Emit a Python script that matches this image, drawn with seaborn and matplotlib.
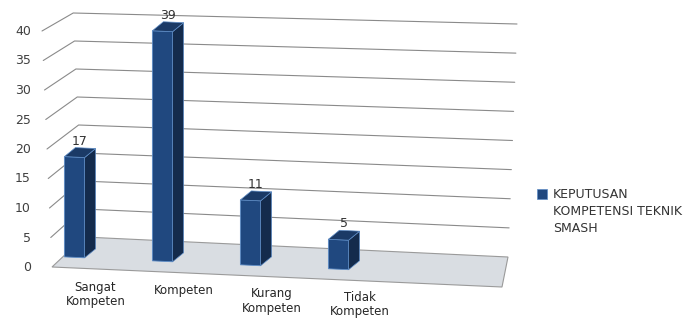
import numpy as np
import pandas as pd
import matplotlib
matplotlib.use("Agg")
import matplotlib.pyplot as plt
import matplotlib.transforms as mtransforms
from matplotlib.patches import Polygon, Rectangle, Patch
from matplotlib.lines import Line2D
from matplotlib.legend_handler import HandlerPatch
import seaborn as sns

# ---------------- data ----------------
categories = ["Sangat\nKompeten", "Kompeten", "Kurang\nKompeten", "Tidak\nKompeten"]
values = [17, 39, 11, 5]
y_ticks = [0, 5, 10, 15, 20, 25, 30, 35, 40]
series_name = "KEPUTUSAN\nKOMPETENSI TEKNIK\nSMASH"

# ---------------- style ----------------
FRONT = "#20487F"
SIDE = "#142B4C"
TOP = "#1B3A66"
EDGE = "#5D8CC6"
GRID = "#8A8A8A"
FLOOR = "#D9DDE2"
TXT = "#404040"

W, H = 691, 320
sns.set_theme(style="white")
plt.rcParams["font.family"] = ["DejaVu Sans"]

fig = plt.figure(figsize=(W / 100, H / 100), dpi=100)
fig.patch.set_facecolor("white")

# layout constants (image pixels)
X0, DX = 74.5, 88.0        # first category centre, category spacing
Y0, SY = 266.0, 5.9        # pixel row of value 0, pixels per unit
AX_L, AX_R = 42, 520
SLOPE = 0.045              # perspective tilt of the floor
DEPTH = np.array([11.0, -9.0])

ax = fig.add_axes([AX_L / W, 0, (AX_R - AX_L) / W, 1])
pix = mtransforms.Affine2D().scale(1 / W, -1 / H).translate(0, 1) + fig.transFigure
shear = mtransforms.Affine2D(np.array([[1, 0, 0],
                                       [-SLOPE, 1, SLOPE * 200 + 3],
                                       [0, 0, 1]]))

df = pd.DataFrame({"kategori": categories, "nilai": values})
sns.barplot(data=df, x="kategori", y="nilai", ax=ax, color=FRONT, width=0.23,
            saturation=1, edgecolor=EDGE, linewidth=0.6, zorder=4)

ax.set_xlim((AX_L - X0) / DX, (AX_R - X0) / DX)
ax.set_ylim(-(H - Y0) / SY, Y0 / SY)
ax.patch.set_alpha(0)
for s in ax.spines.values():
    s.set_visible(False)
ax.set_xticks([])
ax.set_xlabel("")
ax.set_ylabel("")
ax.set_yticks(y_ticks)
ax.set_yticklabels([str(v) for v in y_ticks])
ax.tick_params(axis="y", length=0, pad=8, labelsize=9, labelcolor=TXT)

# ---------------- walls & floor ----------------
def Fp(v):   # front-left edge
    return (52 - 0.25 * v, Y0 + 1 - SY * v)

def Bp(v):   # back-left corner
    return (84 - 0.27 * v, 237 - 5.6 * v)

def Rp(v):   # back-right edge
    return (508 + 0.225 * v, 257 - 5.825 * v)

for v in y_ticks[1:]:
    f, b, r = Fp(v), Bp(v), Rp(v)
    ax.add_line(Line2D([f[0], b[0], r[0]], [f[1], b[1], r[1]], transform=pix,
                       color=GRID, lw=0.8, zorder=1, clip_on=False))

floor = Polygon([Fp(0), (502, 287), Rp(0), Bp(0)], closed=True, transform=pix,
                facecolor=FLOOR, edgecolor="#9A9A9A", lw=0.8, zorder=2, clip_on=False)
ax.add_patch(floor)

# ---------------- 3D bars ----------------
bar_tr = ax.transData + shear

def d2p(x, y):
    d = bar_tr.transform((x, y))
    return np.array([d[0], H - d[1]])

bars = [p for p in ax.patches if isinstance(p, Rectangle)]
for i, (p, v) in enumerate(zip(bars, values)):
    p.set_transform(bar_tr)
    p.set_clip_on(False)
    x1, w, h = p.get_x(), p.get_width(), p.get_height()
    fl, fr, brr = d2p(x1, h), d2p(x1 + w, h), d2p(x1 + w, 0)
    side = Polygon([fr, brr, brr + DEPTH, fr + DEPTH], closed=True, transform=pix,
                   facecolor=SIDE, edgecolor=EDGE, lw=0.5, zorder=4, clip_on=False)
    top = Polygon([fl, fr, fr + DEPTH, fl + DEPTH], closed=True, transform=pix,
                  facecolor=TOP, edgecolor=EDGE, lw=0.5, zorder=4, clip_on=False)
    ax.add_patch(side)
    ax.add_patch(top)
    c = (fl + fr) / 2 + DEPTH / 2
    ax.text(c[0], c[1] - 5, f"{v:g}", transform=pix, ha="center", va="bottom",
            fontsize=9, color="#333333", zorder=6, clip_on=False)
    # category label along the floor front edge
    bc = d2p(x1 + w / 2, 0)
    lx = bc[0] + 21
    ly = 277 + 0.038 * lx
    ax.text(lx, ly, categories[i], transform=pix, ha="center", va="top",
            multialignment="center", linespacing=1.15, fontsize=8.5, color="#262626",
            zorder=6, clip_on=False)

# ---------------- legend ----------------
class TopSquare(HandlerPatch):
    def create_artists(self, legend, orig_handle, xdescent, ydescent, width,
                       height, fontsize, trans):
        s = 0.8 * fontsize
        r = Rectangle((-xdescent, -ydescent + height - s + 0.3 * fontsize), s, s,
                      facecolor=FRONT, edgecolor=EDGE, lw=0.5, transform=trans)
        return [r]

handle = Patch(facecolor=FRONT, edgecolor=EDGE)
leg = fig.legend(handles=[handle], labels=[series_name], loc="upper left",
                 bbox_to_anchor=(537 / W, 1 - 188 / H), frameon=False,
                 fontsize=9, handlelength=0.8, handleheight=4.6,
                 handletextpad=0.45, borderpad=0, borderaxespad=0,
                 handler_map={Patch: TopSquare()})
for t in leg.get_texts():
    t.set_linespacing(1.4)
    t.set_color("#333333")

fig.savefig("out.png", dpi=100, facecolor="white")
